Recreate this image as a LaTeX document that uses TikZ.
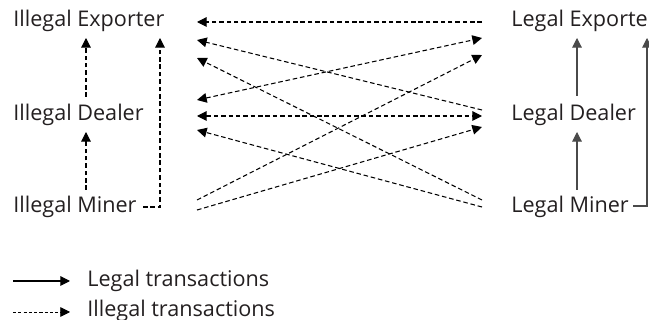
\documentclass[tikz,border=0pt]{standalone}
\usepackage{fontspec}
\setmainfont{Open Sans}
\usetikzlibrary{arrows.meta}
\definecolor{mtext}{HTML}{231F20}
\definecolor{mgray}{HTML}{4A4A4A}
\tikzstyle{actor} = [inner sep=0pt, anchor=base west, text=mtext, font=\fontsize{12.3}{14}\selectfont]
\tikzstyle{legal} = [line width=0.6pt, draw=mgray, -{Triangle[length=5.5pt,width=5.5pt]}]
\tikzstyle{illegal} = [line width=0.6pt, dash pattern=on 2.6pt off 1.6pt, -{Triangle[length=5.5pt,width=5.5pt]}]
\tikzstyle{mutual} = [illegal, {Triangle[length=5.5pt,width=5.5pt]}-{Triangle[length=5.5pt,width=5.5pt]}]

\begin{document}
\begin{tikzpicture}[x=0.02cm, y=-0.02cm]
  \clip (0,0) rectangle (649,320);
  \node (iexp) [actor] at (13,27) {Illegal Exporter};
  \node (idl) [actor] at (13,121) {Illegal Dealer};
  \node (imn) [actor] at (13,213) {Illegal Miner};
  \node (lexp) [actor] at (511,27) {Legal Exporter};
  \node (ldl) [actor] at (511,121) {Legal Dealer};
  \node (lmn) [actor] at (511,213) {Legal Miner};
  % chains
  \draw [illegal] ([shift={(73,-24)}]idl.base west) -- ([shift={(73,11)}]iexp.base west);
  \draw [illegal] ([shift={(73,-23)}]imn.base west) -- ([shift={(73,11)}]idl.base west);
  \draw [illegal] ([shift={(130,-6)}]imn.base west) -| ([shift={(147,11)}]iexp.base west);
  \draw [legal] ([shift={(66,-25)}]ldl.base west) -- ([shift={(66,11)}]lexp.base west);
  \draw [legal] ([shift={(66,-23)}]lmn.base west) -- ([shift={(66,11)}]ldl.base west);
  \draw [legal] ([shift={(122,-7)}]lmn.base west) -| ([shift={(136,11)}]lexp.base west);
  % across
  \draw [illegal] ([shift={(-29,-5)}]lexp.base west) -- ([shift={(184,-5)}]iexp.base west);
  \draw [illegal] ([shift={(-29,-11)}]ldl.base west) -- ([shift={(184,13)}]iexp.base west);
  \draw [illegal] ([shift={(-29,-13)}]lmn.base west) -- ([shift={(184,31)}]iexp.base west);
  \draw [mutual] ([shift={(184,-21)}]idl.base west) -- ([shift={(-29,11)}]lexp.base west);
  \draw [mutual] ([shift={(184,-5)}]idl.base west) -- ([shift={(-29,-5)}]ldl.base west);
  \draw [illegal] ([shift={(-29,-6)}]lmn.base west) -- ([shift={(184,9)}]idl.base west);
  \draw [illegal] ([shift={(184,-13)}]imn.base west) -- ([shift={(-29,28)}]lexp.base west);
  \draw [illegal] ([shift={(184,-3)}]imn.base west) -- ([shift={(-29,6)}]ldl.base west);
  % key
  \node (klegal) [actor] at (87,287) {Legal transactions};
  \node (killegal) [actor] at (87,317) {Illegal transactions};
  \draw [legal, draw=black] ([shift={(-74,-6)}]klegal.base west) -- ([shift={(-17,-6)}]klegal.base west);
  \draw [illegal, line width=0.4pt, dash pattern=on 1.8pt off 1.2pt] ([shift={(-74,-5)}]killegal.base west) -- ([shift={(-17,-5)}]killegal.base west);
\end{tikzpicture}
\end{document}
